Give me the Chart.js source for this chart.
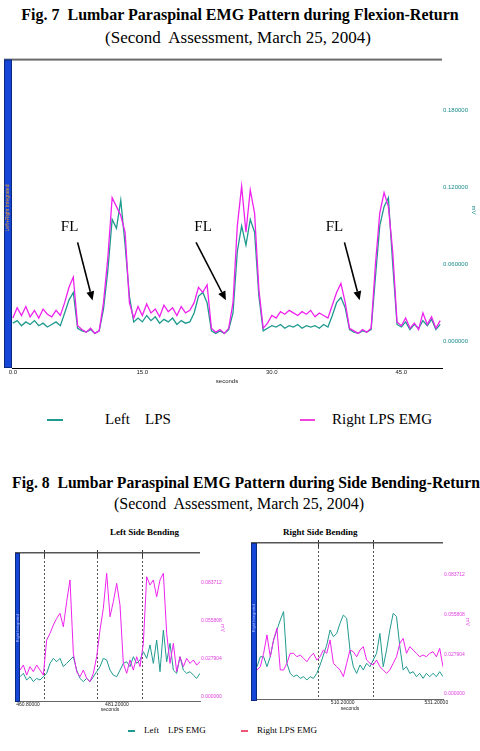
<!DOCTYPE html>
<html>
<head>
<meta charset="utf-8">
<script src="https://cdn.jsdelivr.net/npm/chart.js@4/dist/chart.umd.min.js"></script>
<style>
  html, body { margin: 0; padding: 0; background: #fff; }
  body { width: 480px; height: 751px; position: relative; overflow: hidden;
         font-family: "Liberation Serif", "Times New Roman", serif; }
  .t { position: absolute; white-space: pre; color: #000; line-height: 1; }
  .sw { position: absolute; height: 2px; }
  canvas { position: absolute; }
</style>
</head>
<body>

<div class="t" style="left:0;width:480px;text-align:center;top:7px;font-weight:bold;font-size:16px;">Fig. 7  Lumbar Paraspinal EMG Pattern during Flexion-Return</div>
<div class="t" style="left:0;width:476px;text-align:center;top:29px;font-size:17px;">(Second  Assessment, March 25, 2004)</div>

<canvas id="flex" width="480" height="330" style="left:0;top:55px;"></canvas>

<div class="sw" style="left:47px;top:419px;width:16px;background:#1f9a8f;"></div>
<div class="t" style="left:105px;top:412px;font-size:15px;">Left    LPS</div>
<div class="sw" style="left:300px;top:419px;width:15px;background:#ee44dd;"></div>
<div class="t" style="left:332px;top:412px;font-size:15px;">Right LPS EMG</div>

<div class="t" style="left:12px;width:468px;text-align:center;top:475px;font-weight:bold;font-size:15.7px;">Fig. 8  Lumbar Paraspinal EMG Pattern during Side Bending-Return</div>
<div class="t" style="left:0;width:478px;text-align:center;top:496px;font-size:16px;">(Second  Assessment, March 25, 2004)</div>

<div class="t" style="left:110px;top:528px;font-weight:bold;font-size:9px;">Left Side Bending</div>
<div class="t" style="left:283px;top:528px;font-weight:bold;font-size:9px;">Right Side Bending</div>

<canvas id="bendL" width="240" height="168" style="left:0;top:545px;"></canvas>
<canvas id="bendR" width="240" height="177" style="left:240px;top:535px;"></canvas>

<div class="sw" style="left:128px;top:730px;width:7px;height:1.5px;background:#1f9a8f;"></div>
<div class="t" style="left:144px;top:726px;font-size:9px;">Left    LPS EMG</div>
<div class="sw" style="left:241px;top:730px;width:7px;height:1.5px;background:#ee5577;"></div>
<div class="t" style="left:257px;top:726px;font-size:9px;">Right LPS EMG</div>

<script>
// ---------- Fig. 7: flexion-return, one value every 0.5 s (mV) ----------
const flexStep = 0.5;
const flexLeftLPS = [
  0.014,0.016,0.012,0.015,0.013,0.016,0.012,0.014,0.011,0.013,0.015,0.012,
  0.022,0.032,0.038,0.010,
  0.008,0.007,0.009,0.006,0.008,
  0.025,0.055,0.095,0.088,0.110,0.075,0.035,0.015,
  0.018,0.015,0.020,0.016,0.019,0.014,0.017,0.015,0.018,0.013,0.016,0.014,0.015,
  0.022,0.035,0.038,0.030,0.008,
  0.006,0.008,0.006,0.009,
  0.022,0.070,0.090,0.075,0.095,0.085,0.035,0.008,
  0.010,0.012,0.011,0.013,0.010,0.012,0.011,0.013,0.010,0.012,0.011,0.012,0.010,0.013,0.011,
  0.020,0.030,0.034,0.026,0.009,
  0.007,0.006,0.008,0.007,0.009,
  0.050,0.090,0.105,0.112,0.060,0.013,
  0.011,0.015,0.009,0.013,0.010,0.016,0.012,0.017,0.009,0.013
];
const flexRightLPS = [
  0.018,0.026,0.020,0.027,0.019,0.024,0.018,0.025,0.021,0.019,0.024,0.020,
  0.030,0.042,0.050,0.012,
  0.009,0.007,0.010,0.006,0.008,
  0.030,0.065,0.112,0.105,0.098,0.085,0.030,0.018,
  0.027,0.020,0.029,0.022,0.025,0.019,0.028,0.023,0.026,0.020,0.027,0.022,0.024,
  0.030,0.042,0.038,0.044,0.010,
  0.007,0.009,0.006,0.010,
  0.030,0.090,0.121,0.085,0.118,0.100,0.040,0.010,
  0.014,0.020,0.018,0.023,0.021,0.024,0.022,0.020,0.023,0.021,0.024,0.019,0.022,0.020,0.018,
  0.028,0.038,0.045,0.030,0.010,
  0.008,0.006,0.009,0.007,0.010,
  0.060,0.100,0.116,0.105,0.070,0.015,
  0.012,0.018,0.010,0.014,0.009,0.022,0.013,0.019,0.010,0.016
];
const flexXTicks = [0, 15, 30, 45];
const flexYTicks = [0, 0.06, 0.12, 0.18];
// "FL" notes: label position and arrow, in (seconds, mV)
const flexNotes = [
  { text: 'FL', at: [6.57, 0.0888],  from: [7.50, 0.0771],  to: [9.23, 0.0317] },
  { text: 'FL', at: [22.03, 0.0888], from: [21.22, 0.0771], to: [24.68, 0.0319] },
  { text: 'FL', at: [37.25, 0.0888], from: [38.41, 0.0771], to: [40.17, 0.0319] }
];

// ---------- Fig. 8: side bending-return (mV) ----------
const leftBendStart = 458.97, leftBendStep = 0.7645;
const leftBendLeftLPS = [
  0.0149,0.0174,0.0125,0.0149,0.0113,0.0137,0.0125,0.0149,0.0174,0.0247,
  0.0284,0.0259,0.0284,0.0223,0.0247,0.0272,0.0296,0.0198,0.0137,0.0113,
  0.0137,0.0113,0.0149,0.0186,0.0223,0.0284,0.0272,0.0198,0.0161,0.0149,
  0.0198,0.0247,0.0259,0.0223,0.0296,0.0247,0.0272,0.0333,0.0284,0.0382,
  0.0247,0.0418,0.0186,0.0492,0.0259,0.0394,0.0198,0.0174,0.0296,0.0198,
  0.0174,0.0186,0.0161,0.0137,0.0174
];
const leftBendRightLPS = [
  0.0198,0.0235,0.0161,0.0223,0.0186,0.0235,0.0198,0.0161,0.0418,0.0467,
  0.0528,0.0577,0.0614,0.0516,0.0700,0.0859,0.0321,0.0186,0.0149,0.0198,
  0.0137,0.0113,0.0174,0.0296,0.0492,0.0651,0.0908,0.0590,0.0700,0.0834,
  0.0675,0.0247,0.0174,0.0272,0.0198,0.0296,0.0223,0.0394,0.0883,0.0822,
  0.0859,0.0736,0.0859,0.0908,0.0467,0.0247,0.0394,0.0186,0.0296,0.0223,
  0.0284,0.0247,0.0272,0.0235,0.0259
];
const leftBendXTicks = [460.8, 481.2];
const leftBendMarks = [464.47, 476.63, 486.95];

const rightBendStart = 490.99, rightBendStep = 0.7447;
const rightBendLeftLPS = [
  0.0192,0.0262,0.0262,0.0192,0.0262,0.0380,0.0450,0.0520,0.0579,0.0216,
  0.0145,0.0122,0.0134,0.0110,0.0122,0.0098,0.0122,0.0110,0.0145,0.0204,
  0.0274,0.0344,0.0450,0.0403,0.0426,0.0497,0.0555,0.0532,0.0309,0.0192,
  0.0145,0.0204,0.0169,0.0216,0.0192,0.0239,0.0286,0.0426,0.0192,0.0309,
  0.0450,0.0567,0.0544,0.0333,0.0169,0.0192,0.0145,0.0157,0.0122,0.0145,
  0.0110,0.0145,0.0122,0.0145,0.0122,0.0157,0.0122
];
const rightBendRightLPS = [
  0.0169,0.0192,0.0286,0.0415,0.0262,0.0380,0.0462,0.0169,0.0169,0.0216,
  0.0286,0.0286,0.0262,0.0274,0.0251,0.0227,0.0262,0.0286,0.0239,0.0262,
  0.0309,0.0286,0.0380,0.0216,0.0192,0.0169,0.0122,0.0216,0.0309,0.0297,
  0.0262,0.0309,0.0333,0.0239,0.0216,0.0204,0.0239,0.0192,0.0169,0.0145,
  0.0169,0.0216,0.0262,0.0356,0.0391,0.0286,0.0333,0.0309,0.0286,0.0262,
  0.0274,0.0262,0.0286,0.0297,0.0262,0.0321,0.0192
];
const rightBendXTicks = [510.2, 531.2];
const rightBendMarks = [504.62, 516.91];
const bendYTicks = [0, 0.027904, 0.055808, 0.083712];

const TEAL = '#1f9a8f';
const MAGENTA = '#ee22ee';
const BAR_BLUE = '#1646d8';

const series = (vals, t0, dt) => vals.map((v, i) => ({ x: t0 + i * dt, y: v }));

// Frame decorations: blue side bar, top rule, event markers, notes, unit label
const decor = {
  id: 'decor',
  beforeDatasetsDraw(chart, args, o) {
    const { ctx, chartArea: a, scales: { x } } = chart;
    ctx.save();
    (o.marks || []).forEach(t => {
      const px = Math.round(x.getPixelForValue(t)) + 0.5;
      ctx.strokeStyle = '#555';
      ctx.lineWidth = 1;
      ctx.setLineDash([2, 2]);
      ctx.beginPath(); ctx.moveTo(px, a.top); ctx.lineTo(px, a.bottom); ctx.stroke();
      ctx.setLineDash([]);
      ctx.strokeStyle = '#333';
      ctx.beginPath(); ctx.moveTo(px, a.top - 3); ctx.lineTo(px, a.top + 4); ctx.stroke();
    });
    ctx.restore();
  },
  afterDraw(chart, args, o) {
    const { ctx, chartArea: a, scales: { x, y } } = chart;
    const barBottom = a.bottom + o.barExtra;
    ctx.save();
    // top rule
    ctx.fillStyle = o.ruleColor;
    ctx.fillRect(a.left - o.barW, a.top - 1, a.right - a.left + o.barW, o.ruleW);
    // blue side bar
    ctx.fillStyle = BAR_BLUE;
    ctx.fillRect(a.left - o.barW, a.top, o.barW, barBottom - a.top);
    ctx.strokeStyle = '#0a2a80';
    ctx.lineWidth = 1;
    ctx.strokeRect(a.left - o.barW + 0.5, a.top + 0.5, o.barW - 1, barBottom - a.top - 1);
    // caption on the bar
    ctx.translate(a.left - o.barW / 2, o.barTextY);
    ctx.rotate(-Math.PI / 2);
    ctx.fillStyle = o.barTextColor;
    ctx.font = o.barTextFont;
    ctx.textAlign = 'center';
    ctx.textBaseline = 'middle';
    ctx.fillText(o.barText, 0, 0);
    ctx.restore();

    // unit label on the right
    ctx.save();
    ctx.translate(o.unitX, o.unitY);
    ctx.rotate(Math.PI / 2);
    ctx.fillStyle = o.unitColor;
    ctx.font = o.unitFont;
    ctx.textAlign = 'center';
    ctx.textBaseline = 'middle';
    ctx.fillText('mV', 0, 0);
    ctx.restore();

    // annotations with arrows
    (o.notes || []).forEach(n => {
      ctx.save();
      ctx.fillStyle = '#000';
      ctx.strokeStyle = '#000';
      ctx.font = '15px "Liberation Serif", serif';
      ctx.textAlign = 'center';
      ctx.textBaseline = 'middle';
      ctx.fillText(n.text, x.getPixelForValue(n.at[0]), y.getPixelForValue(n.at[1]));
      const x0 = x.getPixelForValue(n.from[0]), y0 = y.getPixelForValue(n.from[1]);
      const x1 = x.getPixelForValue(n.to[0]), y1 = y.getPixelForValue(n.to[1]);
      const ang = Math.atan2(y1 - y0, x1 - x0);
      const hl = 9, hw = 4;
      const bx = x1 - hl * Math.cos(ang), by = y1 - hl * Math.sin(ang);
      ctx.lineWidth = 1.6;
      ctx.beginPath(); ctx.moveTo(x0, y0); ctx.lineTo(bx, by); ctx.stroke();
      ctx.beginPath();
      ctx.moveTo(x1, y1);
      ctx.lineTo(bx + hw * Math.sin(ang), by - hw * Math.cos(ang));
      ctx.lineTo(bx - hw * Math.sin(ang), by + hw * Math.cos(ang));
      ctx.closePath(); ctx.fill();
      ctx.restore();
    });
  }
};

function build(id, c) {
  return new Chart(document.getElementById(id), {
    type: 'line',
    data: {
      datasets: [
        { label: 'Right LPS EMG', data: series(c.right, c.t0, c.dt), borderColor: MAGENTA,
          borderWidth: c.lw, pointRadius: 0, tension: 0, order: 0 },
        { label: 'Left LPS EMG', data: series(c.left, c.t0, c.dt), borderColor: TEAL,
          borderWidth: c.lw, pointRadius: 0, tension: 0, order: 1 }
      ]
    },
    options: {
      responsive: false, animation: false, events: [],
      layout: { padding: { left: c.padL, top: c.padT, right: 0, bottom: 0 } },
      plugins: { legend: { display: false }, tooltip: { enabled: false }, decor: c.decor },
      scales: {
        x: {
          type: 'linear', min: c.xMin, max: c.xMax,
          afterFit: s => { s.height = c.xH; },
          afterBuildTicks: s => { s.ticks = c.xTicks.map(v => ({ value: v })); },
          ticks: { autoSkip: false, maxRotation: 0, padding: 1, color: '#222',
                   font: { family: 'Arial, "Liberation Sans", sans-serif', size: c.tickSize },
                   callback: v => v.toFixed(c.xDigits) },
          grid: { display: false, drawTicks: false },
          border: { display: true, color: c.axisColor, width: 1 },
          title: { display: true, text: 'seconds', padding: 0, color: '#222',
                   font: { family: 'Arial, "Liberation Sans", sans-serif', size: c.tickSize } }
        },
        y: {
          position: 'right', min: c.yMin, max: c.yMax,
          afterFit: s => { s.width = c.yW; },
          afterBuildTicks: s => { s.ticks = c.yTicks.map(v => ({ value: v })); },
          ticks: { autoSkip: false, padding: 1, color: c.yLabelColor,
                   font: { family: 'Arial, "Liberation Sans", sans-serif', size: c.tickSize },
                   callback: v => v.toFixed(6) },
          grid: { display: false, drawTicks: false },
          border: { display: false }
        }
      }
    },
    plugins: [decor]
  });
}

build('flex', {
  left: flexLeftLPS, right: flexRightLPS, t0: 0, dt: flexStep, lw: 1.3,
  padL: 12, padT: 4, xH: 17, yW: 38,
  xMin: -0.1, xMax: 49.71, yMin: -0.021, yMax: 0.2198,
  xTicks: flexXTicks, yTicks: flexYTicks, xDigits: 1, tickSize: 6,
  axisColor: '#000', yLabelColor: '#1a8a8a',
  decor: { barW: 8, barExtra: 0, ruleW: 2, ruleColor: '#6a6a6a',
           barText: 'Left+Right Integrated', barTextY: 153, barTextColor: '#f0a030',
           barTextFont: '5px Arial, sans-serif',
           unitX: 474, unitY: 155, unitColor: '#1a8a8a', unitFont: '6px Arial, sans-serif',
           notes: flexNotes }
});

build('bendL', {
  left: leftBendLeftLPS, right: leftBendRightLPS, t0: leftBendStart, dt: leftBendStep, lw: 1,
  padL: 20, padT: 8, xH: 12, yW: 40,
  xMin: leftBendStart, xMax: 500.25, yMin: -0.0029, yMax: 0.1057,
  xTicks: leftBendXTicks, yTicks: bendYTicks, xDigits: 5, tickSize: 5,
  axisColor: '#666', yLabelColor: '#e040e0',
  decor: { barW: 5, barExtra: 1, ruleW: 1.5, ruleColor: '#555',
           barText: 'Right Integrated', barTextY: 83, barTextColor: '#a9b8ff',
           barTextFont: '4px Arial, sans-serif',
           unitX: 222, unitY: 83, unitColor: '#e040e0', unitFont: '5px Arial, sans-serif',
           marks: leftBendMarks }
});

build('bendR', {
  left: rightBendLeftLPS, right: rightBendRightLPS, t0: rightBendStart, dt: rightBendStep, lw: 1,
  padL: 17, padT: 8, xH: 13, yW: 37,
  xMin: rightBendStart, xMax: 532.69, yMin: -0.0035, yMax: 0.1061,
  xTicks: rightBendXTicks, yTicks: bendYTicks, xDigits: 5, tickSize: 5,
  axisColor: '#666', yLabelColor: '#e040e0',
  decor: { barW: 6, barExtra: 2, ruleW: 1.5, ruleColor: '#555',
           barText: 'Right Integrated', barTextY: 83, barTextColor: '#a9b8ff',
           barTextFont: '4px Arial, sans-serif',
           unitX: 227, unitY: 87, unitColor: '#e040e0', unitFont: '5px Arial, sans-serif',
           marks: rightBendMarks }
});
</script>
</body>
</html>
